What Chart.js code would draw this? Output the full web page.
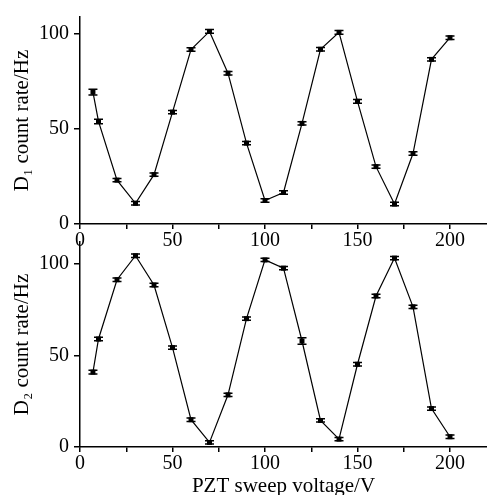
<!DOCTYPE html>
<html>
<head>
<meta charset="utf-8">
<script src="https://cdn.jsdelivr.net/npm/chart.js@4.4.1/dist/chart.umd.min.js"></script>
<style>
  html, body { margin: 0; padding: 0; background: #fff; }
  #wrap { position: relative; width: 487px; height: 495px; }
  .panel { position: absolute; left: 0; width: 487px; }
  #topPanel { top: 0; height: 251px; }
  #botPanel { top: 225px; height: 270px; }
</style>
</head>
<body>
<div id="wrap">
  <div class="panel" id="topPanel"><canvas id="d1Chart"></canvas></div>
  <div class="panel" id="botPanel"><canvas id="d2Chart"></canvas></div>
</div>
<script>
const voltages = [7, 10, 20, 30, 40, 50, 60, 70, 80, 90, 100, 110, 120, 130, 140, 150, 160, 170, 180, 190, 200];
const d1Rates = [69.4, 54, 23.1, 10.9, 26, 58.9, 91.9, 101.4, 79.4, 42.6, 12.4, 16.6, 53, 92, 100.9, 64.6, 30.2, 10.5, 37.1, 86.7, 98.1];
const d1Errors = [1.5, 1.2, 0.9, 0.9, 0.9, 0.9, 0.9, 1, 0.9, 0.9, 0.9, 0.9, 0.9, 0.9, 1, 1, 0.9, 0.9, 0.9, 0.9, 0.9];
const d2Rates = [40.9, 59, 91.4, 104.5, 88.5, 54.3, 14.9, 2.5, 28.5, 70.1, 102.2, 97.7, 57.9, 14.5, 4.3, 45.2, 82.5, 103.2, 76.6, 21, 5.6];
const d2Errors = [1, 1, 1, 0.9, 0.9, 0.9, 0.9, 0.9, 0.9, 0.9, 0.9, 0.9, 1.8, 0.9, 0.9, 0.9, 0.9, 0.9, 0.9, 0.9, 0.9];
const xTicks = [0, 25, 50, 75, 100, 125, 150, 175, 200];
const xLabelTicks = [0, 50, 100, 150, 200];
const yTicks = [0, 50, 100];

Chart.defaults.font.family = '"Liberation Serif", "Times New Roman", serif';
Chart.defaults.font.size = 20;
Chart.defaults.color = '#000';

// small vertical error bars with caps, drawn through the chart's scales
const errorBars = {
  id: 'errorBars',
  afterDatasetsDraw(chart) {
    const ctx = chart.ctx;
    const xs = chart.scales.x, ys = chart.scales.y;
    chart.data.datasets.forEach(ds => {
      if (!ds.errors) return;
      ctx.save();
      ctx.strokeStyle = '#000';
      ctx.lineWidth = 1.5;
      ds.data.forEach((p, i) => {
        const e = ds.errors[i];
        const px = xs.getPixelForValue(p.x);
        const top = ys.getPixelForValue(p.y + e);
        const bot = ys.getPixelForValue(p.y - e);
        ctx.beginPath();
        ctx.moveTo(px, top); ctx.lineTo(px, bot);
        ctx.moveTo(px - 4.5, top); ctx.lineTo(px + 4.5, top);
        ctx.moveTo(px - 4.5, bot); ctx.lineTo(px + 4.5, bot);
        ctx.stroke();
      });
      ctx.restore();
    });
  }
};

function makeChart(canvasId, rates, errors, yTitle, yMax, padTop, xTitle) {
  return new Chart(document.getElementById(canvasId), {
    type: 'line',
    data: {
      datasets: [{
        data: voltages.map((v, i) => ({ x: v, y: rates[i] })),
        errors: errors,
        borderColor: '#000',
        borderWidth: 1.2,
        pointStyle: 'rect',
        pointRadius: 3.5,
        pointBackgroundColor: '#000',
        pointBorderColor: '#000',
        pointBorderWidth: 0,
        tension: 0,
        fill: false,
        clip: false,
      }]
    },
    options: {
      responsive: true,
      maintainAspectRatio: false,
      animation: false,
      events: [],
      layout: { autoPadding: false, padding: { top: padTop, right: 0, bottom: 0, left: 0 } },
      scales: {
        x: {
          type: 'linear',
          min: 0,
          max: 220,
          afterBuildTicks: axis => { axis.ticks = xTicks.map(v => ({ value: v })); },
          afterFit: axis => { axis.height = xTitle ? 48 : 27; },
          border: { display: true, color: '#000', width: 1.5 },
          grid: { display: true, drawOnChartArea: false, drawTicks: true, tickLength: 5, color: '#000', lineWidth: 1.5 },
          ticks: {
            autoSkip: false,
            maxRotation: 0,
            padding: 0,
            callback: v => xLabelTicks.includes(v) ? String(v) : '',
          },
          title: xTitle ? { display: true, text: xTitle, padding: { top: 0, bottom: -4 }, font: { size: 21 } } : { display: false },
        },
        y: {
          type: 'linear',
          min: 0,
          max: yMax,
          afterBuildTicks: axis => { axis.ticks = yTicks.map(v => ({ value: v })); },
          afterFit: axis => { axis.width = 80; },
          border: { display: true, color: '#000', width: 1.5 },
          grid: { display: true, drawOnChartArea: false, drawTicks: true, tickLength: 6, color: '#000', lineWidth: 1.5 },
          ticks: { padding: 5 },
          title: { display: true, text: yTitle, padding: { top: 10, bottom: 0 }, font: { size: 21 } },
        }
      },
      plugins: {
        legend: { display: false },
        tooltip: { enabled: false },
      }
    },
    plugins: [errorBars]
  });
}

makeChart('d1Chart', d1Rates, d1Errors, 'D\u2081 count rate/Hz', 109, 13, null);
makeChart('d2Chart', d2Rates, d2Errors, 'D\u2082 count rate/Hz', 112, 13, 'PZT sweep voltage/V');
</script>
</body>
</html>
